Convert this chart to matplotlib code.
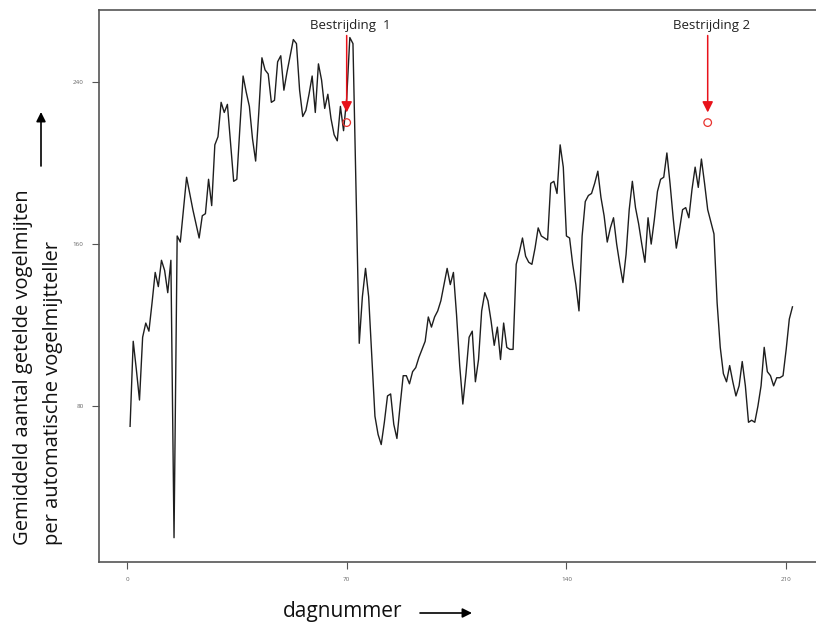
import numpy as np
import matplotlib
matplotlib.use('Agg')
import matplotlib.pyplot as plt

plt.rcParams['font.family'] = ['Open Sans', 'DejaVu Sans']

dag = np.arange(1, 213)
aantal = [70, 112, 98, 83, 114, 121, 117, 131, 146, 139,
          152, 147, 136, 152, 15, 164, 161, 177, 193, 185,
          177, 170, 163, 174, 175, 192, 179, 209, 213, 230,
          225, 229, 210, 191, 192, 218, 243, 235, 228, 212,
          201, 225, 252, 246, 244, 230, 231, 250, 253, 236,
          245, 253, 261, 259, 236, 223, 226, 234, 243, 225,
          249, 241, 227, 234, 222, 214, 211, 228, 216, 232,
          262, 259, 185, 111, 134, 148, 134, 105, 75, 66,
          61, 72, 85, 86, 71, 64, 80, 95, 95, 91,
          97, 99, 104, 108, 112, 124, 119, 124, 127, 132,
          140, 148, 140, 146, 125, 100, 81, 96, 114, 117,
          92, 103, 127, 136, 132, 122, 110, 119, 103, 121,
          109, 108, 108, 150, 156, 163, 154, 151, 150, 158,
          168, 164, 163, 162, 190, 191, 185, 209, 198, 164,
          163, 150, 140, 127, 164, 181, 184, 185, 190, 196,
          183, 174, 161, 168, 173, 160, 150, 141, 155, 177,
          191, 178, 170, 160, 151, 173, 160, 172, 186, 192,
          193, 205, 190, 173, 158, 167, 177, 178, 173, 187,
          198, 188, 202, 190, 177, 171, 165, 131, 109, 96,
          92, 100, 92, 85, 90, 102, 90, 72, 73, 72,
          80, 90, 109, 97, 95, 90, 94, 94, 95, 108,
          123, 129]

bestrijding_dag = [70, 185]
bestrijding_waarde = [220, 220]
bestrijding_tekst = ['Bestrijding  1', 'Bestrijding 2']

xticks = [0, 70, 140, 210]
yticks = [80, 160, 240]

my_dpi = 100
fig = plt.figure(figsize=(816/my_dpi, 627/my_dpi), dpi=my_dpi)
ax = fig.add_axes([99/816, 1-562/627, 1.005-99/816, (562-10)/627])

ax.plot(dag, aantal, color='#1e1e1e', linewidth=1.0)
ax.scatter(bestrijding_dag, bestrijding_waarde, s=30, facecolors='none',
           edgecolors='#e8322e', linewidths=0.9, zorder=3)

for d, t in zip(bestrijding_dag, bestrijding_tekst):
    ax.annotate('', xy=(d, 225), xytext=(d, 263),
                arrowprops=dict(arrowstyle='-|>', color='#e8121a', lw=1.1,
                                mutation_scale=16, shrinkA=0, shrinkB=0))
    ax.text(d + 1.2, 267.7, t, ha='center', va='center', fontsize=9.5, color='#222222')

ax.set_xlim(-8.9, 220.8)
ax.set_ylim(3, 275.6)
ax.set_xticks(xticks)
ax.set_yticks(yticks)
ax.tick_params(axis='both', labelsize=4.5, labelcolor='#666666', color='#555555',
               length=5, width=0.8, direction='out', pad=6)
for s in ax.spines.values():
    s.set_color('#555555')
    s.set_linewidth(1.2)

fig.text(23/816, 1-545/627, 'Gemiddeld aantal getelde vogelmijten', rotation=90,
         ha='center', va='bottom', fontsize=14.5, color='#111111')
fig.text(53/816, 1-545/627, 'per automatische vogelmijtteller', rotation=90,
         ha='center', va='bottom', fontsize=14.5, color='#111111')
fig.text(343/816, 1-611/627, 'dagnummer', ha='center', va='center',
         fontsize=15, color='#111111')

ax.annotate('', xy=(41, 627-112), xytext=(41, 627-166), xycoords='figure pixels',
            arrowprops=dict(arrowstyle='-|>', color='black', lw=1.2,
                            mutation_scale=14, shrinkA=0, shrinkB=0))
ax.annotate('', xy=(472, 627-613), xytext=(420, 627-613), xycoords='figure pixels',
            arrowprops=dict(arrowstyle='-|>', color='black', lw=1.2,
                            mutation_scale=14, shrinkA=0, shrinkB=0))

fig.savefig('out.png', dpi=my_dpi)
plt.close()
